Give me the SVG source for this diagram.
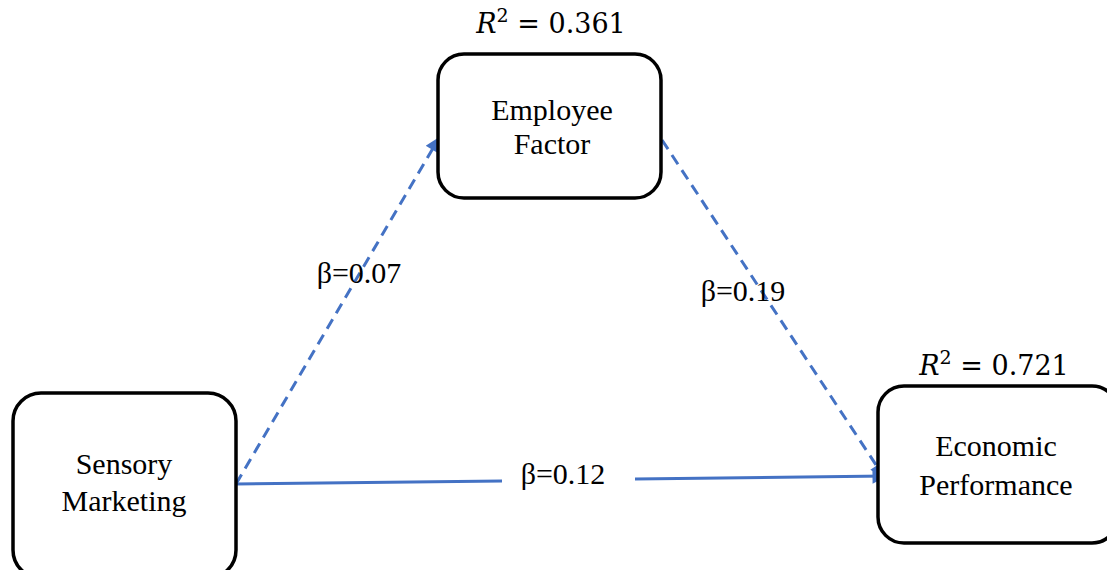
<svg xmlns="http://www.w3.org/2000/svg" width="1107" height="570" viewBox="0 0 1107 570">
<defs>
<style>
.box{fill:#fff;stroke:#000;stroke-width:3.5}
text{font-family:"Liberation Serif","Times New Roman","DejaVu Serif",serif;fill:#000;text-anchor:middle}
.lbl{font-size:30px}
.beta{font-size:30px}
.r2{font-family:"DejaVu Serif","Liberation Serif",serif;font-size:27px}
.edge{stroke:#4472C4;stroke-width:3;fill:none}
.dash{stroke-dasharray:11,7}
</style>
<marker id="arr" viewBox="0 0 10 10" refX="9" refY="5" markerWidth="17" markerHeight="15" orient="auto" markerUnits="userSpaceOnUse">
<path d="M0,0 L10,5 L0,10 z" fill="#4472C4"/>
</marker>
</defs>
<g id="connectors">
<line class="edge dash" x1="236" y1="484" x2="439" y2="138" marker-end="url(#arr)"/>
<line class="edge dash" x1="662" y1="140" x2="884" y2="477" marker-end="url(#arr)"/>
<line class="edge" x1="236" y1="484" x2="502" y2="481"/>
<line class="edge" x1="635" y1="479" x2="886" y2="476" marker-end="url(#arr)"/>
<text class="beta" x="359" y="283">β=0.07</text>
<text class="beta" x="743" y="301">β=0.19</text>
<text class="beta" x="563" y="484">β=0.12</text>
</g>
<g id="employee">
<rect class="box" x="438" y="54" width="223" height="144" rx="26"/>
<text class="lbl" x="552" y="120">Employee</text>
<text class="lbl" x="552" y="154">Factor</text>
<text class="r2" x="551" y="33"><tspan font-style="italic">R</tspan><tspan font-size="19" dy="-11">2</tspan><tspan dy="11"> = 0.361</tspan></text>
</g>
<g id="economic">
<rect class="box" x="878" y="386" width="240" height="157" rx="26"/>
<text class="lbl" x="996" y="456">Economic</text>
<text class="lbl" x="996" y="495">Performance</text>
<text class="r2" x="994" y="375"><tspan font-style="italic">R</tspan><tspan font-size="19" dy="-11">2</tspan><tspan dy="11"> = 0.721</tspan></text>
</g>
<g id="sensory">
<rect class="box" x="13" y="393" width="223" height="185" rx="28"/>
<text class="lbl" x="124" y="474">Sensory</text>
<text class="lbl" x="124" y="511">Marketing</text>
</g>
</svg>
